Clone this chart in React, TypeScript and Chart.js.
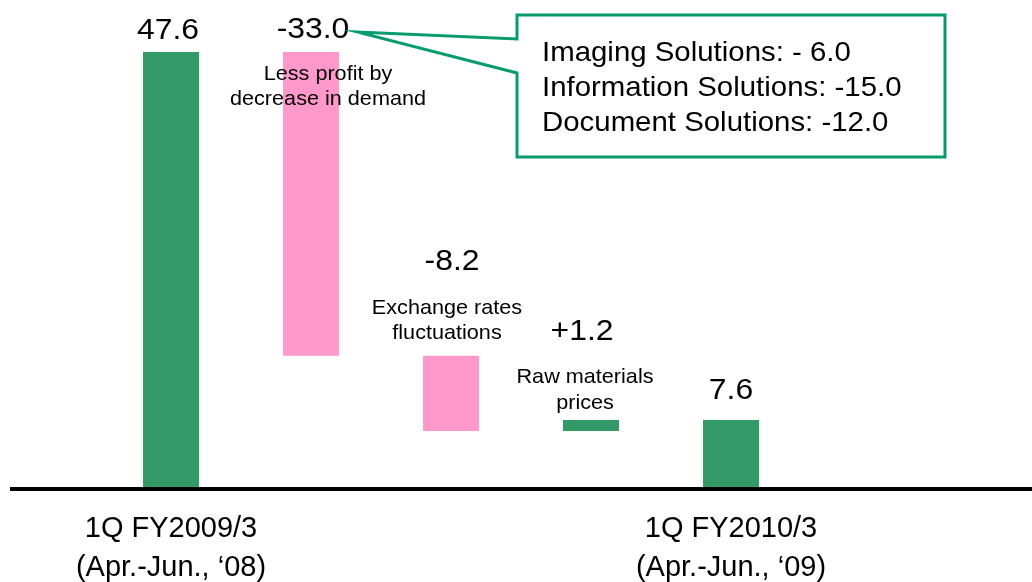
import React, { useEffect, useRef } from "react";
import { Chart, registerables } from "chart.js";

Chart.register(...registerables);

// ---- data ----
const categories = ["1Q FY2009/3", "Demand", "Exchange", "Raw materials", "1Q FY2010/3"];
const tickLabels: (string | string[])[] = [
  ["1Q FY2009/3", "(Apr.-Jun., ‘08)"],
  "",
  "",
  "",
  ["1Q FY2010/3", "(Apr.-Jun., ‘09)"],
];
const stepValues = [47.6, -33.0, -8.2, 1.2, 7.6];
const isTotal = [true, false, false, false, true];
const valueLabels = ["47.6", "-33.0", "-8.2", "+1.2", "7.6"];
const descLabels: string[][] = [
  [],
  ["Less profit by", "decrease in demand"],
  ["Exchange rates", "fluctuations"],
  ["Raw materials", "prices"],
  [],
];
const calloutLines = [
  "Imaging Solutions: - 6.0",
  "Information Solutions: -15.0",
  "Document Solutions: -12.0",
];

const GREEN = "#339966";
const PINK = "#ff99cc";
const TEAL = "#089c6c";
const FONT = '"Liberation Sans", Arial, Helvetica, sans-serif';

function buildRanges(): [number, number][] {
  let running = 0;
  return stepValues.map((v, i) => {
    if (isTotal[i]) {
      running = v;
      return [0, v];
    }
    const a = running;
    const b = running + v;
    running = b;
    return [Math.min(a, b), Math.max(a, b)];
  });
}

function drawStretched(
  ctx: CanvasRenderingContext2D,
  text: string,
  x: number,
  y: number,
  size: number,
  sx: number,
  align: CanvasTextAlign
) {
  ctx.save();
  ctx.translate(x, y);
  ctx.scale(sx, 1);
  ctx.font = `${size}px ${FONT}`;
  ctx.textAlign = align;
  ctx.textBaseline = "alphabetic";
  ctx.fillStyle = "#000";
  ctx.fillText(text, 0, 0);
  ctx.restore();
}

const annotationPlugin = {
  id: "waterfallAnnotations",
  afterDatasetsDraw(chart: any) {
    const ctx: CanvasRenderingContext2D = chart.ctx;
    const xs = chart.scales.x;
    const ys = chart.scales.y;
    const ranges = buildRanges();

    // baseline
    const y0 = ys.getPixelForValue(0);
    ctx.save();
    ctx.strokeStyle = "#000";
    ctx.lineWidth = 4;
    ctx.beginPath();
    ctx.moveTo(10, y0 - 1);
    ctx.lineTo(chart.width, y0 - 1);
    ctx.stroke();
    ctx.restore();

    const valDx = [-3, 2, 1, -9, 0];
    const valDy = [-13, -14, -86, -80, -21];
    const descDx = [0, 17, -4, -6, 0];
    const descDy = [0, 28, -42, -37, 0];

    ranges.forEach((r, i) => {
      const cx = xs.getPixelForValue(i);
      const top = ys.getPixelForValue(r[1]);
      drawStretched(ctx, valueLabels[i], cx + valDx[i], top + valDy[i], 29, 1.1, "center");
      descLabels[i].forEach((line, j) => {
        drawStretched(ctx, line, cx + descDx[i], top + descDy[i] + j * 25.5, 21, 1.03, "center");
      });
    });

    // callout
    const tipX = xs.getPixelForValue(1) + 46;
    const tipY = 32;
    const L = 517, T = 15, R = 945, B = 157;
    ctx.save();
    ctx.beginPath();
    ctx.moveTo(tipX, tipY);
    ctx.lineTo(L, 39);
    ctx.lineTo(L, T);
    ctx.lineTo(R, T);
    ctx.lineTo(R, B);
    ctx.lineTo(L, B);
    ctx.lineTo(L, 73);
    ctx.closePath();
    ctx.fillStyle = "#fff";
    ctx.fill();
    ctx.strokeStyle = TEAL;
    ctx.lineWidth = 3;
    ctx.lineJoin = "miter";
    ctx.stroke();
    ctx.restore();
    calloutLines.forEach((line, j) => {
      drawStretched(ctx, line, 542, 61 + j * 35, 28, 1.05, "left");
    });
  },
};

export default function App() {
  const ref = useRef<HTMLCanvasElement | null>(null);
  useEffect(() => {
    if (!ref.current) return;
    const ranges = buildRanges();
    const colors = stepValues.map((v, i) => (isTotal[i] || v >= 0 ? GREEN : PINK));
    const chart = new Chart(ref.current, {
      type: "bar",
      data: {
        labels: categories,
        datasets: [
          {
            data: ranges as any,
            backgroundColor: colors,
            borderWidth: 0,
            borderSkipped: false,
            barPercentage: 0.4,
            categoryPercentage: 1,
          },
        ],
      },
      options: {
        responsive: false,
        animation: false,
        layout: { padding: { left: 101, right: 231, top: 0, bottom: 0 } },
        plugins: { legend: { display: false }, tooltip: { enabled: false } },
        scales: {
          x: {
            type: "category",
            offset: true,
            grid: { display: false, drawTicks: false },
            border: { display: false },
            afterFit: (scale: any) => {
              scale.height = 92;
            },
            ticks: {
              autoSkip: false,
              maxRotation: 0,
              minRotation: 0,
              padding: 19,
              color: "#000",
              font: { family: FONT, size: 29, lineHeight: 1.36 },
              callback: (_v: any, i: number) => tickLabels[i],
            },
          },
          y: {
            display: false,
            min: 0,
            max: 53.25,
          },
        },
      },
      plugins: [annotationPlugin],
    });
    return () => chart.destroy();
  }, []);
  return (
    <div style={{ position: "fixed", left: 0, top: 0, width: 1032, height: 582, background: "#fff" }}>
      <canvas ref={ref} width={1032} height={582} style={{ display: "block" }} />
    </div>
  );
}
